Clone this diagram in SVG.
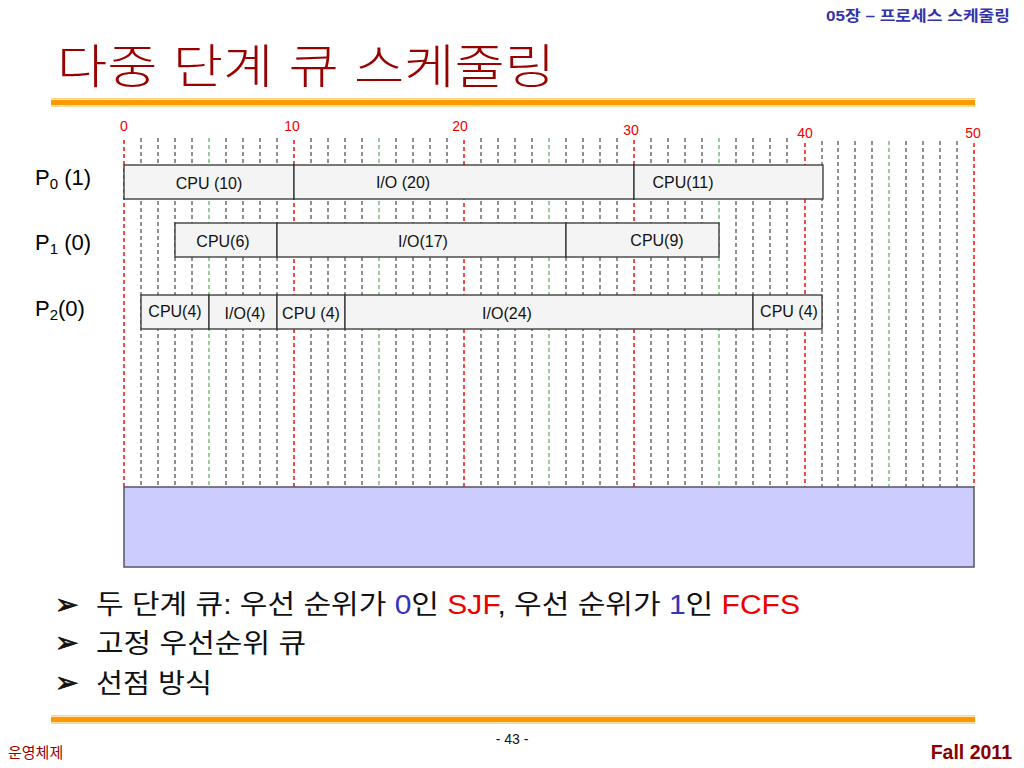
<svg xmlns="http://www.w3.org/2000/svg" width="1024" height="768" viewBox="0 0 1024 768">
<style>
.lat{font-family:"Liberation Sans",Arial,"Noto Sans CJK KR",sans-serif}
.kr{font-family:"Liberation Sans","Noto Sans CJK KR",sans-serif}
.seg{fill:#f4f4f4;stroke:#333;stroke-width:1.3}
.bt{font-family:"Liberation Sans",Arial,sans-serif;font-size:16px;fill:#111;text-anchor:middle}
.gk{stroke:#222;stroke-width:1;stroke-dasharray:4 3}
.gg{stroke:#339933;stroke-width:1;stroke-dasharray:4 3}
.gr{stroke:#ee0000;stroke-width:1.4;stroke-dasharray:4 3}
.tl{font-family:"Liberation Sans",Arial,sans-serif;font-size:14px;fill:#ee0000;text-anchor:middle}
.pl{font-family:"Liberation Sans",Arial,sans-serif;font-size:22px;fill:#000}
.bul{font-family:"Liberation Sans","Noto Sans CJK KR",sans-serif;font-size:27px;fill:#111}
.arw{font-family:"DejaVu Sans",sans-serif;font-size:28px;fill:#111;stroke:#111;stroke-width:0.8}
</style>
<rect width="1024" height="768" fill="#fff"/>
<g id="header">
<text x="1010" y="21" text-anchor="end" class="kr" font-size="15" font-weight="bold" fill="#3333aa" textLength="184" lengthAdjust="spacingAndGlyphs">05장 – 프로세스 스케줄링</text>
<text x="57" y="83" class="kr" font-size="47" font-weight="300" fill="#990000" textLength="498" lengthAdjust="spacingAndGlyphs">다중 단계 큐 스케줄링</text>
<rect x="51" y="98" width="924" height="1.5" fill="#ffd080"/>
<rect x="51" y="100" width="924" height="5" fill="#ff9900"/>
<rect x="51" y="105.5" width="924" height="1.2" fill="#ffc860"/>
</g>
<g id="grid">
<line class="gr" x1="124" y1="140" x2="124" y2="487"/>
<line class="gk" x1="141" y1="138" x2="141" y2="487"/>
<line class="gk" x1="158" y1="138" x2="158" y2="487"/>
<line class="gk" x1="175" y1="138" x2="175" y2="487"/>
<line class="gk" x1="192" y1="138" x2="192" y2="487"/>
<line class="gg" x1="209" y1="138" x2="209" y2="487"/>
<line class="gk" x1="226" y1="138" x2="226" y2="487"/>
<line class="gk" x1="243" y1="138" x2="243" y2="487"/>
<line class="gk" x1="260" y1="138" x2="260" y2="487"/>
<line class="gk" x1="277" y1="138" x2="277" y2="487"/>
<line class="gr" x1="294" y1="140" x2="294" y2="487"/>
<line class="gk" x1="311" y1="138" x2="311" y2="487"/>
<line class="gk" x1="328" y1="138" x2="328" y2="487"/>
<line class="gk" x1="345" y1="138" x2="345" y2="487"/>
<line class="gk" x1="362" y1="138" x2="362" y2="487"/>
<line class="gg" x1="379" y1="138" x2="379" y2="487"/>
<line class="gk" x1="396" y1="138" x2="396" y2="487"/>
<line class="gk" x1="413" y1="138" x2="413" y2="487"/>
<line class="gk" x1="430" y1="138" x2="430" y2="487"/>
<line class="gk" x1="447" y1="138" x2="447" y2="487"/>
<line class="gr" x1="464" y1="140" x2="464" y2="487"/>
<line class="gk" x1="481" y1="138" x2="481" y2="487"/>
<line class="gk" x1="498" y1="138" x2="498" y2="487"/>
<line class="gk" x1="515" y1="138" x2="515" y2="487"/>
<line class="gk" x1="532" y1="138" x2="532" y2="487"/>
<line class="gg" x1="549" y1="138" x2="549" y2="487"/>
<line class="gk" x1="566" y1="138" x2="566" y2="487"/>
<line class="gk" x1="583" y1="138" x2="583" y2="487"/>
<line class="gk" x1="600" y1="138" x2="600" y2="487"/>
<line class="gk" x1="617" y1="138" x2="617" y2="487"/>
<line class="gr" x1="634" y1="140" x2="634" y2="487"/>
<line class="gk" x1="651" y1="138" x2="651" y2="487"/>
<line class="gk" x1="668" y1="138" x2="668" y2="487"/>
<line class="gk" x1="685" y1="138" x2="685" y2="487"/>
<line class="gk" x1="702" y1="138" x2="702" y2="487"/>
<line class="gg" x1="719" y1="138" x2="719" y2="487"/>
<line class="gk" x1="736" y1="138" x2="736" y2="487"/>
<line class="gk" x1="753" y1="138" x2="753" y2="487"/>
<line class="gk" x1="770" y1="138" x2="770" y2="487"/>
<line class="gk" x1="787" y1="138" x2="787" y2="487"/>
<line class="gr" x1="805" y1="143" x2="805" y2="487"/>
<line class="gk" x1="822" y1="141" x2="822" y2="487"/>
<line class="gk" x1="838" y1="141" x2="838" y2="487"/>
<line class="gk" x1="855" y1="141" x2="855" y2="487"/>
<line class="gk" x1="872" y1="141" x2="872" y2="487"/>
<line class="gg" x1="889" y1="141" x2="889" y2="487"/>
<line class="gk" x1="906" y1="141" x2="906" y2="487"/>
<line class="gk" x1="923" y1="141" x2="923" y2="487"/>
<line class="gk" x1="940" y1="141" x2="940" y2="487"/>
<line class="gk" x1="957" y1="141" x2="957" y2="487"/>
<line class="gr" x1="974" y1="143" x2="974" y2="487"/>
<text class="tl" x="124" y="131">0</text>
<text class="tl" x="292" y="131">10</text>
<text class="tl" x="460" y="131">20</text>
<text class="tl" x="631" y="135">30</text>
<text class="tl" x="805" y="138">40</text>
<text class="tl" x="973" y="138">50</text>
</g>
<g id="labels">
<text class="pl" x="35" y="185">P<tspan font-size="15" dy="4">0</tspan><tspan dy="-4"> (1)</tspan></text>
<text class="pl" x="35" y="250">P<tspan font-size="15" dy="4">1</tspan><tspan dy="-4"> (0)</tspan></text>
<text class="pl" x="35" y="316">P<tspan font-size="15" dy="4">2</tspan><tspan dy="-4">(0)</tspan></text>
</g>
<g id="p0">
<rect class="seg" x="124" y="165" width="170" height="34"/>
<rect class="seg" x="294" y="165" width="340" height="34"/>
<rect class="seg" x="634" y="165" width="189" height="34"/>
<text class="bt" x="209" y="189">CPU (10)</text>
<text class="bt" x="403" y="188">I/O (20)</text>
<text class="bt" x="683" y="188">CPU(11)</text>
</g>
<g id="p1">
<rect class="seg" x="175" y="223" width="102" height="34"/>
<rect class="seg" x="277" y="223" width="289" height="34"/>
<rect class="seg" x="566" y="223" width="153" height="34"/>
<text class="bt" x="223" y="247">CPU(6)</text>
<text class="bt" x="423" y="247">I/O(17)</text>
<text class="bt" x="657" y="246">CPU(9)</text>
</g>
<g id="p2">
<rect class="seg" x="141" y="295" width="68" height="34"/>
<rect class="seg" x="209" y="295" width="68" height="34"/>
<rect class="seg" x="277" y="295" width="68" height="34"/>
<rect class="seg" x="345" y="295" width="408" height="34"/>
<rect class="seg" x="753" y="295" width="69" height="34"/>
<text class="bt" x="175" y="317">CPU(4)</text>
<text class="bt" x="245" y="319">I/O(4)</text>
<text class="bt" x="311" y="319">CPU (4)</text>
<text class="bt" x="507" y="319">I/O(24)</text>
<text class="bt" x="789" y="317">CPU (4)</text>
</g>
<g id="queue">
<rect x="124" y="487" width="850" height="80" fill="#ccccff" stroke="#555566" stroke-width="1.5"/>
</g>
<g id="bullets">
<text class="arw" x="55" y="614">➢</text>
<text class="arw" x="55" y="652">➢</text>
<text class="arw" x="55" y="692">➢</text>
<text class="bul" x="96" y="614" textLength="704" lengthAdjust="spacingAndGlyphs">두 단계 큐: 우선 순위가 <tspan fill="#3333bb">0</tspan>인 <tspan fill="#ee0000">SJF</tspan>, 우선 순위가 <tspan fill="#3333bb">1</tspan>인 <tspan fill="#ee0000">FCFS</tspan></text>
<text class="bul" x="96" y="653" textLength="210" lengthAdjust="spacingAndGlyphs">고정 우선순위 큐</text>
<text class="bul" x="96" y="693" textLength="116" lengthAdjust="spacingAndGlyphs">선점 방식</text>
</g>
<g id="footer">
<rect x="51" y="715" width="924" height="1.5" fill="#ffd080"/>
<rect x="51" y="717" width="924" height="5" fill="#ff9900"/>
<rect x="51" y="722.5" width="924" height="1.2" fill="#ffc860"/>
<text x="512" y="744" text-anchor="middle" class="lat" font-size="14" fill="#111">- 43 -</text>
<text x="8" y="758" class="kr" font-size="15" fill="#990000">운영체제</text>
<text x="1012" y="759" text-anchor="end" class="lat" font-size="19.5" font-weight="bold" fill="#880000">Fall 2011</text>
</g>
</svg>
